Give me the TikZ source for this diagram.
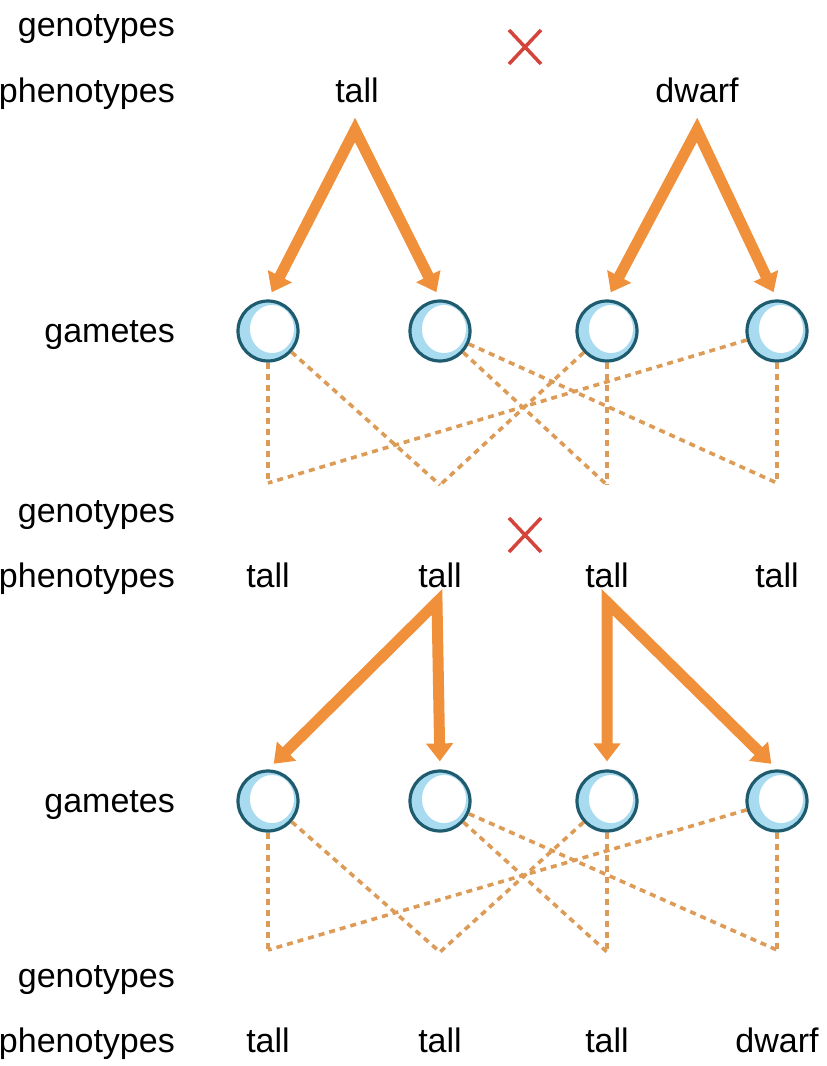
\documentclass[tikz,border=0pt]{standalone}
\usepackage{fontspec}
\setmainfont{Liberation Sans}
\usetikzlibrary{arrows.meta,calc}
\definecolor{arr}{HTML}{F0903A}
\definecolor{dsh}{HTML}{DC9C58}
\definecolor{xred}{HTML}{D5443A}
\definecolor{ring}{HTML}{1E5B6E}
\definecolor{blu}{HTML}{A8DAF0}
\begin{document}
\begin{tikzpicture}[x=1pt,y=-1pt,
  lbl/.style={anchor=base east,font=\fontsize{34}{40}\selectfont,inner sep=0pt},
  ph/.style={anchor=base,font=\fontsize{34}{40}\selectfont,inner sep=0pt},
  gam/.style={circle,draw=ring,fill=blu,line width=3.2pt,minimum size=60pt,inner sep=0pt},
  bigarrow/.style={draw=arr,line width=11pt,line join=miter,shorten <=8pt,shorten >=8pt,
    {Triangle[width=26pt,length=18pt]}-{Triangle[width=26pt,length=18pt]}},
  dline/.style={draw=dsh,line width=3.6pt,dash pattern=on 6pt off 5pt},
  cross/.style={draw=xred,line width=3.5pt}]
\useasboundingbox (0,0) rectangle (827,1066);
% left labels
\node[lbl] (lg1) at (175,36) {genotypes};
\node[lbl] (lp1) at (175,102) {phenotypes};
\node[lbl] (lgm1) at (175,342) {gametes};
\node[lbl] (lg2) at (175,522) {genotypes};
\node[lbl] (lp2) at (175,587) {phenotypes};
\node[lbl] (lgm2) at (175,812) {gametes};
\node[lbl] (lg3) at (175,987) {genotypes};
\node[lbl] (lp3) at (175,1052) {phenotypes};
% crosses
\coordinate (x1) at (525,47);
\coordinate (x2) at (525,535);
\draw[cross] ($(x1)+(-16,-17)$) -- ($(x1)+(16,17)$) ($(x1)+(16,-17)$) -- ($(x1)+(-16,17)$);
\draw[cross] ($(x2)+(-16,-17)$) -- ($(x2)+(16,17)$) ($(x2)+(16,-17)$) -- ($(x2)+(-16,17)$);
% parental phenotypes
\node[ph] (p1) at (357,102) {tall};
\node[ph] (p2) at (697,102) {dwarf};
\coordinate (apA) at (355,130);
\coordinate (apB) at (697,130);
% gametes row 1
\foreach \i/\x in {1/268,2/440,3/607,4/777}{
  \node[gam] (g1\i) at (\x,331) {};
  \fill[white] ($(g1\i)+(4,-2)$) ellipse [x radius=22pt,y radius=24pt];
}
\draw[bigarrow] (g11.north) -- (apA) -- (g12.north);
\draw[bigarrow] (g13.north) -- (apB) -- (g14.north);
% dashed row 1
\coordinate (b11) at (268,483);
\coordinate (b12) at (440,485);
\coordinate (b13) at (607,485);
\coordinate (b14) at (777,483);
\draw[dline] (g11) -- (b11);
\draw[dline] (g11) -- (b12);
\draw[dline] (g12) -- (b13);
\draw[dline] (g12) -- (b14);
\draw[dline] (g13) -- (b12);
\draw[dline] (g13) -- (b13);
\draw[dline] (g14) -- (b11);
\draw[dline] (g14) -- (b14);
% F1 phenotypes
\node[ph] (f1) at (268,587) {tall};
\node[ph] (f2) at (440,587) {tall};
\node[ph] (f3) at (607,587) {tall};
\node[ph] (f4) at (777,587) {tall};
\coordinate (apC) at (437,602);
\coordinate (apD) at (607,602);
% gametes row 2
\foreach \i/\x in {1/268,2/440,3/607,4/777}{
  \node[gam] (g2\i) at (\x,801) {};
  \fill[white] ($(g2\i)+(4,-2)$) ellipse [x radius=22pt,y radius=24pt];
}
\draw[bigarrow] (g21.north) -- (apC) -- (g22.north);
\draw[bigarrow] (g23.north) -- (apD) -- (g24.north);
% dashed row 2
\coordinate (b21) at (268,950);
\coordinate (b22) at (440,952);
\coordinate (b23) at (607,952);
\coordinate (b24) at (777,950);
\draw[dline] (g21) -- (b21);
\draw[dline] (g21) -- (b22);
\draw[dline] (g22) -- (b23);
\draw[dline] (g22) -- (b24);
\draw[dline] (g23) -- (b22);
\draw[dline] (g23) -- (b23);
\draw[dline] (g24) -- (b21);
\draw[dline] (g24) -- (b24);
% F2 phenotypes
\node[ph] (s1) at (268,1052) {tall};
\node[ph] (s2) at (440,1052) {tall};
\node[ph] (s3) at (607,1052) {tall};
\node[ph] (s4) at (777,1052) {dwarf};
\end{tikzpicture}
\end{document}
